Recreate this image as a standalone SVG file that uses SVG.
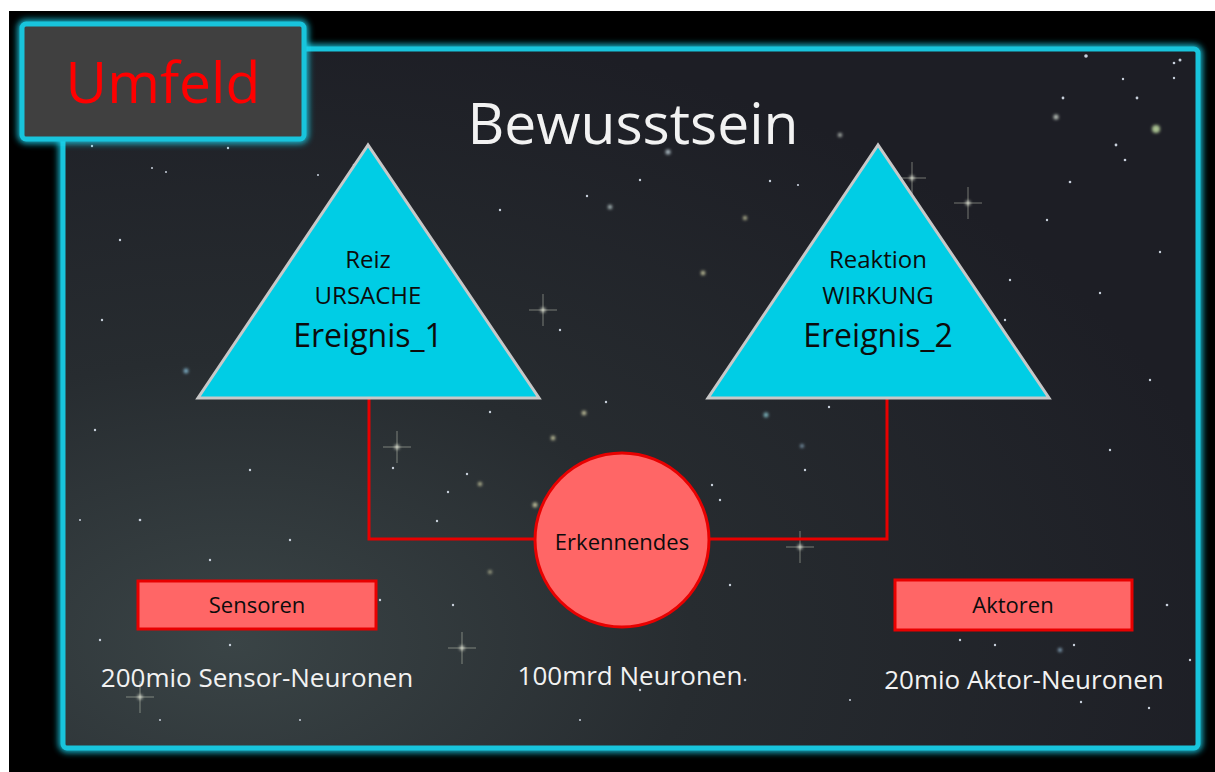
<svg xmlns="http://www.w3.org/2000/svg" width="1215" height="772" viewBox="0 0 1215 772">
<defs>
<radialGradient id="sky" cx="0.15" cy="0.85" r="0.9">
<stop offset="0" stop-color="#3a4446"/>
<stop offset="0.45" stop-color="#272c30"/>
<stop offset="1" stop-color="#1d1e25"/>
</radialGradient>
<filter id="glow" x="-10%" y="-10%" width="120%" height="120%">
<feGaussianBlur stdDeviation="3"/>
</filter>
<filter id="soft" x="-100%" y="-100%" width="300%" height="300%">
<feGaussianBlur stdDeviation="1.5"/>
</filter>
<g id="spark">
<line x1="-14" y1="0" x2="14" y2="0" stroke="#dfe4d0" stroke-width="1" opacity="0.45"/>
<line x1="0" y1="-16" x2="0" y2="16" stroke="#dfe4d0" stroke-width="1" opacity="0.45"/>
<circle r="2.5" fill="#e8ecdc" opacity="0.8" filter="url(#soft)"/>
</g>
</defs>
<style>
.glowline{fill:none;stroke:#1ad6f0;stroke-width:9;filter:url(#glow);opacity:0.85}
.cyan{fill:none;stroke:#18c4dc;stroke-width:5}
.tri{fill:#00cde5;stroke:#c8c8c8;stroke-width:3;stroke-linejoin:miter}
.red{fill:#ff6666;stroke:#e80000;stroke-width:3}
.conn{fill:none;stroke:#e80000;stroke-width:3}
.t{font-family:"Open Sans","Noto Sans",sans-serif;text-anchor:middle}
.dark{fill:#0c0c0c}
.white{fill:#f2f2f2}
.star{fill:#c8d0dc}
</style>
<rect x="0" y="0" width="1215" height="772" fill="#ffffff"/>
<rect x="9" y="11" width="1206" height="761" fill="#000000"/>

<g id="frame">
<rect x="63" y="49" width="1135" height="699" rx="4" class="glowline"/>
<rect x="63" y="49" width="1135" height="699" rx="4" fill="url(#sky)"/>
<g id="stars">
<circle cx="354" cy="165" r="1.3" class="star"/><circle cx="318" cy="175" r="1" class="star"/>
<circle cx="228" cy="148" r="1.2" class="star"/><circle cx="166" cy="172" r="1" class="star"/>
<circle cx="152" cy="168" r="1" class="star"/><circle cx="92" cy="146" r="1.2" class="star"/>
<circle cx="1086" cy="56" r="1.8" class="star"/><circle cx="1063" cy="98" r="1.4" class="star"/>
<circle cx="1156" cy="129" r="4" fill="#a8c090" filter="url(#soft)"/>
<circle cx="1056" cy="117" r="2.5" fill="#c0c8c0" filter="url(#soft)"/>
<circle cx="1116" cy="145" r="1.4" class="star"/><circle cx="1137" cy="98" r="1.4" class="star"/>
<circle cx="1180" cy="60" r="1.5" class="star"/><circle cx="1174" cy="63" r="1.3" class="star"/>
<circle cx="1123" cy="79" r="1.2" class="star"/><circle cx="1174" cy="78" r="1.2" class="star"/>
<circle cx="1070" cy="182" r="1.3" class="star"/><circle cx="1125" cy="160" r="1.3" class="star"/>
<circle cx="668" cy="152" r="2.5" fill="#b0c0c8" filter="url(#soft)"/>
<circle cx="840" cy="135" r="2" fill="#c0c8c0" filter="url(#soft)"/>
<circle cx="770" cy="181" r="1.2" class="star"/><circle cx="798" cy="185" r="1.1" class="star"/>
<circle cx="745" cy="218" r="2" fill="#c8c8a0" filter="url(#soft)"/>
<circle cx="703" cy="273" r="2.2" fill="#c8c8a0" filter="url(#soft)"/>
<circle cx="610" cy="207" r="2.2" fill="#b0c0c0" filter="url(#soft)"/>
<circle cx="587" cy="196" r="1.2" class="star"/><circle cx="500" cy="210" r="1.2" class="star"/>
<circle cx="1010" cy="280" r="1.2" class="star"/><circle cx="1047" cy="220" r="1.2" class="star"/>
<circle cx="1100" cy="293" r="1.2" class="star"/><circle cx="1160" cy="252" r="1.2" class="star"/>
<circle cx="1150" cy="380" r="1.2" class="star"/><circle cx="1110" cy="450" r="1.2" class="star"/>
<circle cx="186" cy="371" r="2.4" fill="#7fb0c8" filter="url(#soft)"/>
<circle cx="102" cy="320" r="1.2" class="star"/><circle cx="95" cy="430" r="1.2" class="star"/>
<circle cx="140" cy="520" r="1.3" class="star"/><circle cx="250" cy="470" r="1.2" class="star"/>
<circle cx="290" cy="540" r="1.2" class="star"/><circle cx="210" cy="560" r="1.2" class="star"/>
<circle cx="100" cy="640" r="1.2" class="star"/><circle cx="230" cy="645" r="1.2" class="star"/>
<circle cx="160" cy="720" r="1" class="star"/><circle cx="300" cy="720" r="1" class="star"/>
<circle cx="584" cy="413" r="2.3" fill="#c8c8a0" filter="url(#soft)"/>
<circle cx="553" cy="438" r="2.2" fill="#c8c8a0" filter="url(#soft)"/>
<circle cx="480" cy="484" r="2" fill="#c8c8a0" filter="url(#soft)"/>
<circle cx="535" cy="505" r="2.4" fill="#c8c8a0" filter="url(#soft)"/>
<circle cx="490" cy="572" r="1.8" fill="#c8c8a0" filter="url(#soft)"/>
<circle cx="606" cy="402" r="1.2" class="star"/><circle cx="490" cy="412" r="1.2" class="star"/>
<circle cx="467" cy="474" r="1.2" class="star"/><circle cx="448" cy="492" r="1.2" class="star"/>
<circle cx="393" cy="468" r="1.2" class="star"/><circle cx="437" cy="521" r="1.2" class="star"/>
<circle cx="453" cy="605" r="1.2" class="star"/><circle cx="380" cy="600" r="1.2" class="star"/>
<circle cx="766" cy="415" r="2.4" fill="#7fb8c0" filter="url(#soft)"/>
<circle cx="802" cy="446" r="1.8" fill="#8fb0c8" filter="url(#soft)"/>
<circle cx="829" cy="407" r="1.2" class="star"/><circle cx="805" cy="470" r="1.2" class="star"/>
<circle cx="712" cy="485" r="1.2" class="star"/><circle cx="730" cy="585" r="1.2" class="star"/>
<circle cx="1060" cy="650" r="2" fill="#8fb0c8" filter="url(#soft)"/>
<circle cx="1167" cy="605" r="1.3" class="star"/><circle cx="1149" cy="708" r="1.2" class="star"/>
<circle cx="1074" cy="645" r="1.2" class="star"/><circle cx="1081" cy="702" r="1.2" class="star"/>
<circle cx="960" cy="640" r="1.2" class="star"/><circle cx="995" cy="645" r="1.2" class="star"/>
<circle cx="1190" cy="660" r="1.2" class="star"/><circle cx="1005" cy="320" r="1.2" class="star"/>
<circle cx="720" cy="500" r="1.2" class="star"/><circle cx="640" cy="180" r="1.2" class="star"/>
<circle cx="380" cy="330" r="1" class="star"/><circle cx="560" cy="330" r="1.2" class="star"/>
<circle cx="120" cy="240" r="1.2" class="star"/><circle cx="80" cy="520" r="1" class="star"/>
<circle cx="640" cy="690" r="1.2" class="star"/><circle cx="745" cy="680" r="1.3" class="star"/>
<circle cx="580" cy="720" r="1" class="star"/><circle cx="850" cy="700" r="1" class="star"/>
<use href="#spark" x="968" y="203"/>
<use href="#spark" x="912" y="178"/>
<use href="#spark" x="397" y="447"/>
<use href="#spark" x="462" y="648"/>
<use href="#spark" x="800" y="547"/>
<use href="#spark" x="140" y="697"/>
<use href="#spark" x="543" y="310"/>
</g>
<rect x="63" y="49" width="1135" height="699" rx="4" class="cyan"/>
</g>

<g id="umfeld">
<rect x="22" y="24" width="282" height="115" rx="4" class="glowline"/>
<rect x="22" y="24" width="282" height="115" rx="4" fill="#404040"/>
<rect x="22" y="24" width="282" height="115" rx="4" class="cyan"/>
<text x="163" y="103" class="t" font-size="57" fill="#ff0000">Umfeld</text>
</g>

<g id="title">
<text x="633" y="144" class="t white" font-size="57">Bewusstsein</text>
</g>

<g id="connectors">
<polyline points="369,398 369,539 536,539" class="conn"/>
<polyline points="708,539 887,539 887,398" class="conn"/>
</g>

<g id="ereignis1">
<polygon points="368,145 198,398 539,398" class="tri"/>
<text x="368" y="268" class="t dark" font-size="24">Reiz</text>
<text x="368" y="304" class="t dark" font-size="24">URSACHE</text>
<text x="368" y="347" class="t dark" font-size="32">Ereignis_1</text>
</g>

<g id="ereignis2">
<polygon points="878,145 708,398 1049,398" class="tri"/>
<text x="878" y="268" class="t dark" font-size="24">Reaktion</text>
<text x="878" y="304" class="t dark" font-size="24">WIRKUNG</text>
<text x="878" y="347" class="t dark" font-size="32">Ereignis_2</text>
</g>

<g id="erkennendes">
<circle cx="622" cy="540" r="87" class="red"/>
<text x="622" y="550" class="t dark" font-size="22">Erkennendes</text>
</g>

<g id="sensoren">
<rect x="138" y="581" width="238" height="48" class="red"/>
<text x="257" y="613" class="t dark" font-size="22">Sensoren</text>
</g>

<g id="aktoren">
<rect x="895" y="580" width="237" height="50" class="red"/>
<text x="1013" y="613" class="t dark" font-size="22">Aktoren</text>
</g>

<g id="labels">
<text x="257" y="687" class="t white" font-size="26">200mio Sensor-Neuronen</text>
<text x="630" y="685" class="t white" font-size="26">100mrd Neuronen</text>
<text x="1024" y="689" class="t white" font-size="26">20mio Aktor-Neuronen</text>
</g>
</svg>
